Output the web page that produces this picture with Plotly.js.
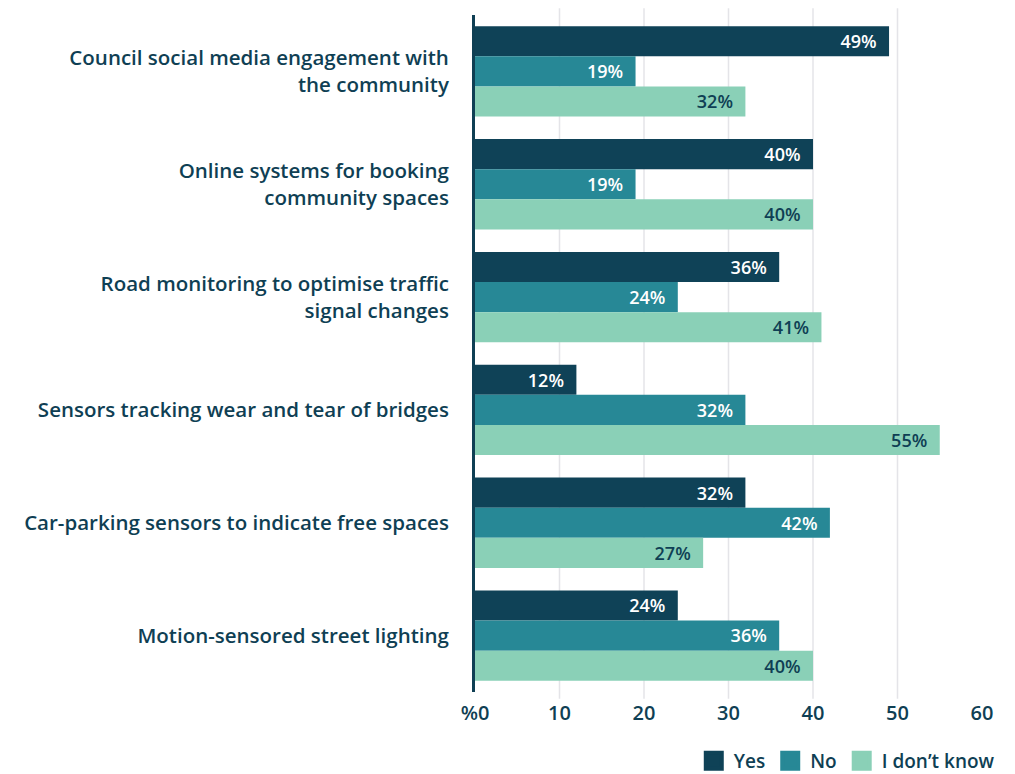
<!DOCTYPE html>
<html>
<head>
<meta charset="utf-8">
<script src="https://cdn.plot.ly/plotly-3.0.1.min.js"></script>
<style>html,body{margin:0;padding:0;background:#fff;}#chart{width:1015px;height:774px;}</style>
</head>
<body>
<div id="chart"></div>
<script>
const categories = [
  "Council social media engagement with<br>the community",
  "Online systems for booking<br>community spaces",
  "Road monitoring to optimise traffic<br>signal changes",
  "Sensors tracking wear and tear of bridges",
  "Car-parking sensors to indicate free spaces",
  "Motion-sensored street lighting"
];
const seriesNames = ["Yes", "No", "I don\u2019t know"];
const yesValues = [49, 40, 36, 12, 32, 24];
const noValues = [19, 19, 24, 32, 42, 36];
const dontKnowValues = [32, 40, 41, 55, 27, 40];
const tickValues = [0, 10, 20, 30, 40, 50, 60];
const tickLabels = ["%0", "10", "20", "30", "40", "50", "60"];
const gridValues = [10, 20, 30, 40, 50];

const colors = ["#0f4257", "#278896", "#8ad0b7"];
const textColors = ["#ffffff", "#ffffff", "#0f3f54"];
const allValues = [yesValues, noValues, dontKnowValues];
const font = "Open Sans, sans-serif";
const dark = "#0f3f54";

const traces = [];
allValues.forEach((vals, i) => {
  traces.push({
    type: "bar",
    orientation: "h",
    y: categories,
    x: vals,
    name: seriesNames[i],
    marker: {color: colors[i]},
    text: vals.map(v => v + "%\u00a0\u00a0"),
    textposition: "inside",
    insidetextanchor: "end",
    textangle: 0,
    textfont: {family: font, size: 21, color: textColors[i], weight: 600},
    hoverinfo: "x+y",
    showlegend: false,
    cliponaxis: false
  });
});
seriesNames.forEach((n, i) => {
  traces.push({
    type: "scatter",
    mode: "markers",
    x: [null],
    y: [null],
    name: n,
    marker: {symbol: "square", size: 16, color: colors[i], line: {color: colors[i], width: 4}},
    showlegend: true
  });
});

const layout = {
  width: 1015,
  height: 774,
  margin: {l: 475, r: 33, t: 15, b: 82},
  paper_bgcolor: "#fff",
  plot_bgcolor: "#fff",
  barmode: "group",
  bargap: 0.2,
  bargroupgap: 0,
  font: {family: font, color: dark},
  xaxis: {
    range: [0, 60],
    tickvals: tickValues,
    ticktext: tickLabels,
    showgrid: false,
    zeroline: false,
    showline: false,
    ticks: "outside",
    ticklen: 3,
    tickcolor: "rgba(0,0,0,0)",
    tickfont: {family: font, size: 20, color: dark, weight: 600},
    fixedrange: true
  },
  yaxis: {
    autorange: "reversed",
    showline: true,
    linecolor: dark,
    linewidth: 3,
    showgrid: false,
    ticks: "",
    ticklabelstandoff: 19,
    tickfont: {family: font, size: 20.5, color: dark, weight: 600},
    fixedrange: true
  },
  shapes: gridValues.map(v => ({
    type: "line", xref: "x", yref: "paper", x0: v, x1: v, y0: -0.01, y1: 1.01,
    layer: "below", line: {color: "#e4e4e8", width: 1.5}
  })),
  legend: {
    orientation: "h",
    x: 0.985,
    xanchor: "right",
    xref: "container",
    y: 0.017,
    yref: "container",
    yanchor: "middle",
    font: {family: font, size: 19, color: dark, weight: 600},
    itemclick: false,
    itemdoubleclick: false
  },
  showlegend: true
};

Plotly.newPlot("chart", traces, layout, {displayModeBar: false, staticPlot: true});
</script>
</body>
</html>
